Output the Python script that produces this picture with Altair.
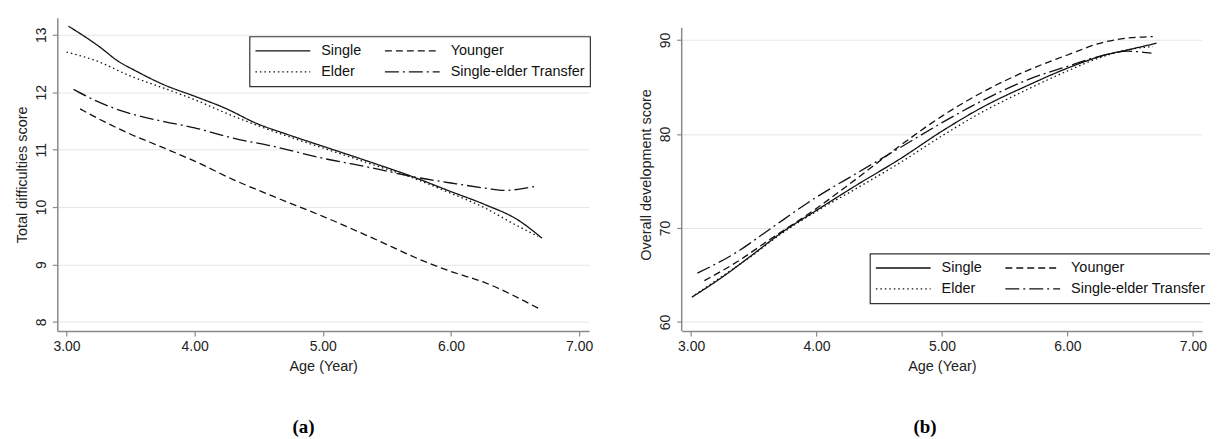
import altair as alt
import pandas as pd

# legend entries are laid out column by column: col 1 = Single, Elder; col 2 = Younger, Transfer
groups = ["Single", "Elder", "Younger", "Single-elder Transfer"]
dash_patterns = [[1, 0], [1.5, 3], [7, 4], [14, 4, 2, 4]]

x_ticks = [3, 4, 5, 6, 7]
a_y_ticks = [8, 9, 10, 11, 12, 13]
b_y_ticks = [60, 70, 80, 90]

# ---- panel (a): Total difficulties score ----
a_single_x = [3.015, 3.27, 3.39, 3.55, 3.76, 4.0, 4.24, 4.48, 4.73, 5.0, 5.39, 5.70, 6.0, 6.27, 6.52, 6.71]
a_single_y = [13.15, 12.77, 12.56, 12.36, 12.13, 11.93, 11.72, 11.46, 11.26, 11.06, 10.77, 10.53, 10.27, 10.04, 9.78, 9.46]
a_elder_x = [3.0, 3.24, 3.48, 3.76, 4.0, 4.24, 4.48, 4.73, 5.0, 5.39, 5.70, 6.0, 6.27, 6.48, 6.68]
a_elder_y = [12.70, 12.54, 12.30, 12.07, 11.87, 11.64, 11.43, 11.23, 11.03, 10.74, 10.51, 10.24, 9.98, 9.72, 9.49]
a_younger_x = [3.106, 3.24, 3.48, 3.76, 4.0, 4.30, 4.61, 5.0, 5.39, 5.82, 6.0, 6.27, 6.68]
a_younger_y = [11.71, 11.55, 11.29, 11.03, 10.80, 10.48, 10.19, 9.84, 9.46, 9.03, 8.88, 8.68, 8.24]
a_transfer_x = [3.055, 3.24, 3.48, 3.76, 4.0, 4.30, 4.61, 5.0, 5.39, 5.70, 6.0, 6.27, 6.42, 6.58, 6.68]
a_transfer_y = [12.05, 11.84, 11.64, 11.49, 11.38, 11.20, 11.06, 10.85, 10.68, 10.53, 10.42, 10.33, 10.29, 10.33, 10.37]

# ---- panel (b): Overall development score ----
b_single_x = [3.006, 3.23, 3.48, 3.72, 3.99, 4.33, 4.66, 5.0, 5.33, 5.69, 6.0, 6.30, 6.48, 6.71]
b_single_y = [62.64, 64.6, 67.06, 69.5, 71.8, 74.65, 77.3, 80.3, 82.9, 85.2, 87.0, 88.4, 88.94, 89.65]
b_elder_x = [3.03, 3.23, 3.48, 3.72, 3.99, 4.33, 4.66, 5.0, 5.33, 5.69, 6.0, 6.30, 6.5, 6.68]
b_elder_y = [62.9, 64.7, 67.0, 69.4, 71.7, 74.3, 76.9, 79.8, 82.4, 84.8, 86.7, 88.3, 89.0, 89.3]
b_younger_x = [3.106, 3.36, 3.63, 3.99, 4.33, 4.66, 5.0, 5.33, 5.69, 6.0, 6.30, 6.48, 6.68]
b_younger_y = [64.4, 66.35, 68.8, 72.0, 75.35, 78.7, 81.9, 84.5, 86.8, 88.4, 89.8, 90.2, 90.35]
b_transfer_x = [3.05, 3.36, 3.63, 3.99, 4.33, 4.66, 5.0, 5.33, 5.69, 6.0, 6.30, 6.48, 6.67]
b_transfer_y = [65.2, 67.4, 69.9, 73.2, 75.9, 78.5, 81.2, 83.6, 85.8, 87.2, 88.4, 88.8, 88.6]

a_x_domain = [2.928, 7.078]
a_y_domain = [7.844, 13.295]
b_x_domain = [2.925, 7.073]
b_y_domain = [59.05, 92.35]
b_y_axis_extent = [59.05, 91.3]

FONT = "Liberation Sans"
INK = "#111111"
AXIS_GRAY = "#8a8a8a"


def frame(xs, ys, group):
    return pd.DataFrame({"age": xs, "score": ys, "group": group})


df_a = pd.concat([
    frame(a_single_x, a_single_y, "Single"),
    frame(a_younger_x, a_younger_y, "Younger"),
    frame(a_elder_x, a_elder_y, "Elder"),
    frame(a_transfer_x, a_transfer_y, "Single-elder Transfer"),
])
df_b = pd.concat([
    frame(b_single_x, b_single_y, "Single"),
    frame(b_younger_x, b_younger_y, "Younger"),
    frame(b_elder_x, b_elder_y, "Elder"),
    frame(b_transfer_x, b_transfer_y, "Single-elder Transfer"),
])

dash_scale = alt.Scale(domain=groups, range=dash_patterns)


def make_legend(lx, ly):
    return alt.Legend(
        orient="none", legendX=lx, legendY=ly, columns=2, title=None,
        symbolType="stroke", symbolSize=3025, clipHeight=19, rowPadding=2,
        columnPadding=22, labelOffset=10, padding=5,
        strokeColor="#333333", fillColor="white",
        labelFont=FONT, labelFontSize=14.5, labelColor="#111111", labelLimit=0,
        symbolStrokeColor=INK, symbolStrokeWidth=1.3,
    )


x_axis = alt.Axis(values=x_ticks, format=".2f", grid=False, title="Age (Year)")

chart_a = alt.Chart(df_a).mark_line(interpolate="monotone", strokeWidth=1.3, color=INK).encode(
    x=alt.X("age:Q", scale=alt.Scale(domain=a_x_domain, nice=False, zero=False), axis=x_axis),
    y=alt.Y("score:Q", scale=alt.Scale(domain=a_y_domain, nice=False, zero=False),
            axis=alt.Axis(values=a_y_ticks, title="Total difficulties score", grid=True)),
    strokeDash=alt.StrokeDash("group:N", scale=dash_scale, legend=make_legend(193, 18.7)),
    detail="group:N",
).properties(
    width=534, height=314.4,
    title=alt.TitleParams("(a)", orient="bottom", font="Liberation Serif", fontSize=19,
                          fontWeight="bold", offset=45, frame="bounds", anchor="middle", color="#000000"),
)

lines_b = alt.Chart(df_b).mark_line(interpolate="monotone", strokeWidth=1.3, color=INK).encode(
    x=alt.X("age:Q", scale=alt.Scale(domain=b_x_domain, nice=False, zero=False), axis=x_axis),
    y=alt.Y("score:Q", scale=alt.Scale(domain=b_y_domain, nice=False, zero=False),
            axis=alt.Axis(values=b_y_ticks, title="Overall development score", grid=True, domain=False)),
    strokeDash=alt.StrokeDash("group:N", scale=dash_scale, legend=make_legend(189, 236.7)),
    detail="group:N",
)

axis_line_b = alt.Chart(pd.DataFrame({"lo": [b_y_axis_extent[0]], "hi": [b_y_axis_extent[1]]})).mark_rule(
    color=AXIS_GRAY, strokeWidth=1.5
).encode(
    x=alt.value(0),
    y=alt.Y("lo:Q"),
    y2="hi:Q",
)

chart_b = alt.layer(lines_b, axis_line_b).properties(
    width=522.5, height=314.4,
    title=alt.TitleParams("(b)", orient="bottom", font="Liberation Serif", fontSize=19,
                          fontWeight="bold", offset=45, frame="bounds", anchor="middle", color="#000000"),
)

# slight negative right padding: like the reference, the right edge of panel (b)'s legend box is cut off
chart = alt.hconcat(chart_a, chart_b, spacing=46).resolve_scale(
    strokeDash="independent", x="independent", y="independent"
).resolve_legend(strokeDash="independent").properties(
    padding={"left": 5.5, "top": 9, "right": -1.5, "bottom": 0},
    background="white",
).configure_view(stroke=None).configure_axis(
    labelFont=FONT, titleFont=FONT, labelFontSize=14, titleFontSize=14.5,
    labelColor="#222222", titleColor="#222222", titleFontWeight="normal",
    domainColor=AXIS_GRAY, domainWidth=1.5, tickColor=AXIS_GRAY, tickWidth=1.2, tickSize=5,
    gridColor="#e6e6e6", gridWidth=1,
    labelPadding=4, titlePadding=6,
).configure_axisLeft(
    labelAngle=270, labelAlign="center", labelBaseline="bottom", titlePadding=5,
).configure_legend(strokeWidth=1.2)

chart.save("out.html", embed_options={"renderer": "svg", "actions": False})
